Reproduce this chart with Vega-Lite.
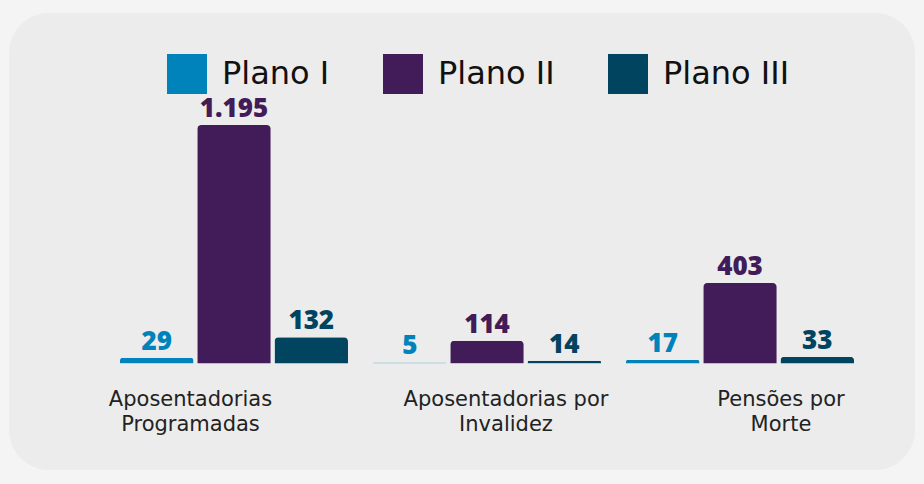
{
  "$schema": "https://vega.github.io/schema/vega-lite/v6.json",
  "width": 906,
  "height": 457,
  "autosize": {"type": "none"},
  "padding": {"left": 9, "top": 13, "right": 9, "bottom": 14},
  "background": "#f4f4f4",
  "config": {
    "view": {"fill": "#ececec", "stroke": null, "cornerRadius": 40},
    "locale": {"number": {"decimal": ",", "thousands": ".", "grouping": [3], "currency": ["R$", ""]}},
    "legend": {
      "orient": "none",
      "legendX": 158,
      "legendY": 41,
      "direction": "horizontal",
      "title": null,
      "symbolType": "square",
      "symbolSize": 1600,
      "symbolStrokeWidth": 0,
      "symbolOpacity": 1,
      "labelFont": "DejaVu Sans",
      "labelFontSize": 32,
      "labelColor": "#111111",
      "labelOffset": 15,
      "columnPadding": 53,
      "labelLimit": 400
    }
  },
  "data": {
    "values": [
      {"categoria": "Aposentadorias Programadas", "plano": "Plano I", "valor": 29},
      {"categoria": "Aposentadorias Programadas", "plano": "Plano II", "valor": 1195},
      {"categoria": "Aposentadorias Programadas", "plano": "Plano III", "valor": 132},
      {"categoria": "Aposentadorias por Invalidez", "plano": "Plano I", "valor": 5},
      {"categoria": "Aposentadorias por Invalidez", "plano": "Plano II", "valor": 114},
      {"categoria": "Aposentadorias por Invalidez", "plano": "Plano III", "valor": 14},
      {"categoria": "Pensões por Morte", "plano": "Plano I", "valor": 17},
      {"categoria": "Pensões por Morte", "plano": "Plano II", "valor": 403},
      {"categoria": "Pensões por Morte", "plano": "Plano III", "valor": 33}
    ]
  },
  "encoding": {
    "x": {
      "field": "categoria",
      "type": "nominal",
      "sort": null,
      "scale": {"paddingInner": 0.0988, "paddingOuter": 0.3399, "align": 0.6453, "round": false},
      "axis": {
        "title": null,
        "domain": false,
        "ticks": false,
        "grid": false,
        "labelAngle": 0,
        "offset": -106.5,
        "labelPadding": 25,
        "labelFont": "DejaVu Sans",
        "labelFontSize": 21,
        "labelColor": "#222222",
        "labelLineHeight": 25,
        "labelLimit": 0,
        "labelOverlap": false,
        "labelExpr": "datum.value == 'Aposentadorias Programadas' ? ['Aposentadorias', 'Programadas'] : datum.value == 'Aposentadorias por Invalidez' ? ['Aposentadorias por', 'Invalidez'] : ['Pensões por', 'Morte']",
        "labelOffset": {
          "condition": [
            {"test": "datum.value == 'Aposentadorias Programadas'", "value": -43.5},
            {"test": "datum.value == 'Aposentadorias por Invalidez'", "value": 19}
          ],
          "value": 41
        }
      }
    },
    "xOffset": {
      "field": "plano",
      "type": "nominal",
      "sort": null,
      "scale": {"paddingInner": 0.0485, "paddingOuter": 0, "round": false}
    },
    "y": {
      "field": "valor",
      "type": "quantitative",
      "scale": {"domain": [-533.6, 1756], "nice": false, "zero": false},
      "axis": null
    },
    "color": {
      "field": "plano",
      "type": "nominal",
      "sort": null,
      "scale": {"domain": ["Plano I", "Plano II", "Plano III"], "range": ["#0082ba", "#421c59", "#00445f"]}
    }
  },
  "layer": [
    {"mark": {"type": "bar", "cornerRadiusTopLeft": 4, "cornerRadiusTopRight": 4}},
    {
      "mark": {"type": "text", "dy": -8, "baseline": "alphabetic", "font": "Open Sans", "fontWeight": 800, "fontSize": 26},
      "encoding": {"text": {"field": "valor", "type": "quantitative", "format": ",d"}}
    }
  ]
}
